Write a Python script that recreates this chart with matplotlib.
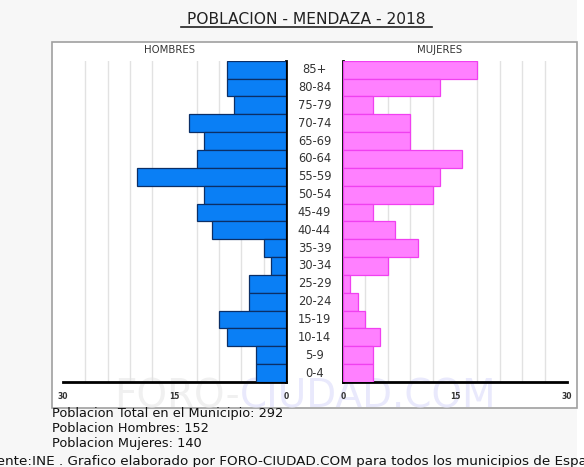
import numpy as np
import matplotlib
matplotlib.use("Agg")
import matplotlib.pyplot as plt
import matplotlib.transforms as mtransforms
from matplotlib.patches import Rectangle
from matplotlib.lines import Line2D

# grupos de edad, de arriba abajo
edades = ['85+', '80-84', '75-79', '70-74', '65-69', '60-64', '55-59', '50-54',
          '45-49', '40-44', '35-39', '30-34', '25-29', '20-24', '15-19', '10-14',
          '5-9', '0-4']
hombres = [8, 8, 7, 13, 11, 12, 20, 11, 12, 10, 3, 2, 5, 5, 9, 8, 4, 4]
mujeres = [18, 13, 4, 9, 9, 16, 13, 12, 4, 7, 10, 6, 1, 2, 3, 5, 4, 4]
ticks = [0, 15, 30]

W, H = 584, 467
fig = plt.figure(figsize=(W / 100, H / 100), dpi=100)
fig.patch.set_facecolor('white')


def px(x, y):
    # pixeles (origen arriba-izquierda) -> fraccion de figura
    return x / W, 1 - y / H


# fondo gris y marco
fig.patches.append(Rectangle((0, 0), 577 / W, 1, transform=fig.transFigure,
                             facecolor='#f7f7f7', edgecolor='none', zorder=-3))
x0, y0 = px(52, 408)
x1, y1 = px(577, 42)
fig.patches.append(Rectangle((x0, y0), x1 - x0, y1 - y0, transform=fig.transFigure,
                             facecolor='white', edgecolor='#a0a0a0', lw=1.2, zorder=-2))

# marca de agua
fx, fy = px(240, 396)
fig.text(fx, fy, 'FORO-', fontsize=28, color='#f0f0f0', ha='right', va='center', zorder=-1)
fig.text(fx, fy, 'CIUDAD.COM', fontsize=28, color='#e9e9fc', ha='left', va='center', zorder=-1)

bot = 1 - 382 / H
hgt = (382 - 60.7) / H
ax_h = fig.add_axes([63 / W, bot, (286 - 63) / W, hgt])
ax_m = fig.add_axes([343 / W, bot, (567 - 343) / W, hgt])

y = np.arange(len(edades))[::-1]
ax_h.barh(y, hombres, height=1.0, color='#0a7ff5', edgecolor='#0b2f66', lw=0.9, zorder=3)
ax_m.barh(y, mujeres, height=1.0, color='#ff80ff', edgecolor='#f040f0', lw=0.9, zorder=3)

for ax, lim in ((ax_h, (30, 0)), (ax_m, (0, 30))):
    ax.set_facecolor('none')
    ax.set_xlim(*lim)
    ax.set_ylim(-0.5, len(edades) - 0.5)
    ax.set_yticks([])
    ax.set_xticks(ticks)
    ax.set_xticklabels([str(t) for t in ticks], fontsize=5.5, color='#333333',
                       fontweight='bold')
    ax.set_xticks(np.arange(0, 31, 3), minor=True)
    ax.tick_params(axis='x', which='both', length=0, pad=7)
    ax.grid(axis='x', which='minor', color='#e2e2e2', lw=1.0, zorder=0)
    for s in ax.spines.values():
        s.set_visible(False)
    ax.spines['bottom'].set_visible(True)
    ax.spines['bottom'].set_linewidth(2)
    ax.spines['bottom'].set_color('black')

ax_h.spines['right'].set_visible(True)
ax_h.spines['right'].set_linewidth(2)
ax_m.spines['left'].set_visible(True)
ax_m.spines['left'].set_linewidth(2)

# etiquetas de edad en el centro
trans = mtransforms.blended_transform_factory(fig.transFigure, ax_m.transData)
for yi, lab in zip(y, edades):
    fig.text(314.5 / W, yi, lab, transform=trans, ha='center', va='center',
             fontsize=8.3, color='#333333')

fig.text(*px(170, 50), 'HOMBRES', fontsize=7.3, color='#333333', ha='center', va='center')
fig.text(*px(440, 50), 'MUJERES', fontsize=7.3, color='#333333', ha='center', va='center')

# titulo subrayado
tx, ty = px(306, 19)
fig.text(tx, ty, 'POBLACION - MENDAZA - 2018', fontsize=11.2, color='#222222',
         ha='center', va='center')
ux0, uy = px(181, 27)
ux1, _ = px(432, 27)
fig.lines.append(Line2D([ux0, ux1], [uy, uy], transform=fig.transFigure,
                        color='#222222', lw=1.2))

# resumen
lineas = ['Poblacion Total en el Municipio: 292', 'Poblacion Hombres: 152',
          'Poblacion Mujeres: 140']
for i, t in enumerate(lineas):
    fig.text(*px(52, 414 + i * 14.5), t, fontsize=9.3, color='#111111',
             ha='left', va='center')

fig.text(*px(-19, 462), 'Fuente:INE . Grafico elaborado por FORO-CIUDAD.COM para todos los municipios de España',
         fontsize=9.7, color='#111111', ha='left', va='center')

fig.savefig('out.png', dpi=100)
